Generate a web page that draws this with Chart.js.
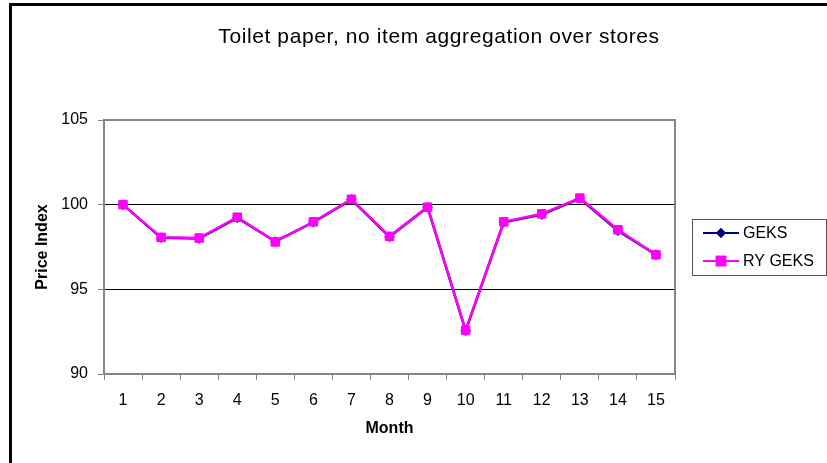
<!DOCTYPE html>
<html>
<head>
<meta charset="utf-8">
<script src="https://cdn.jsdelivr.net/npm/chart.js@4/dist/chart.umd.min.js"></script>
<style>
  html, body { margin: 0; padding: 0; background: #fff; }
  #wrap { width: 827px; height: 463px; }
  canvas { display: block; }
</style>
</head>
<body>
<div id="wrap"><canvas id="c" width="827" height="463"></canvas></div>
<script>
// Monthly price indexes for toilet paper
const months = ['1', '2', '3', '4', '5', '6', '7', '8', '9', '10', '11', '12', '13', '14', '15'];
const geks   = [100.0, 98.04, 98.0, 99.22, 97.83, 98.96, 100.3, 98.1, 99.85, 92.56, 98.96, 99.42, 100.36, 98.46, 97.05];
const ryGeks = [100.0, 98.07, 98.03, 99.26, 97.8, 98.99, 100.32, 98.13, 99.85, 92.58, 98.99, 99.46, 100.39, 98.52, 97.04];
const yTicks = [90, 95, 100, 105];

const chartTitle = 'Toilet paper, no item aggregation over stores';
const xTitle = 'Month';
const yTitle = 'Price Index';

const FONT = '"Liberation Sans", Arial, Helvetica, sans-serif';
const AXIS_GREY = '#858585';

// Page frame, plot border, title and legend
const decorations = {
  id: 'decorations',
  beforeDraw(chart) {
    const ctx = chart.ctx;
    ctx.save();
    ctx.fillStyle = '#fff';
    ctx.fillRect(0, 0, chart.width, chart.height);
    ctx.fillStyle = '#000';
    ctx.fillRect(9, 3, chart.width - 9, 3);   // top rule
    ctx.fillRect(9, 3, 3, chart.height - 3);  // left rule
    ctx.restore();
  },
  beforeDatasetsDraw(chart) {
    const { ctx, chartArea: a } = chart;
    ctx.save();
    ctx.strokeStyle = AXIS_GREY;
    ctx.lineWidth = 2;
    ctx.beginPath();
    ctx.moveTo(a.left, a.top);
    ctx.lineTo(a.right, a.top);
    ctx.lineTo(a.right, a.bottom);
    ctx.stroke();
    ctx.restore();
  },
  afterDraw(chart) {
    const ctx = chart.ctx;
    ctx.save();
    // Title
    ctx.fillStyle = '#000';
    ctx.font = '21px ' + FONT;
    ctx.textAlign = 'center';
    ctx.textBaseline = 'alphabetic';
    if ('letterSpacing' in ctx) ctx.letterSpacing = '0.6px';
    ctx.fillText(chartTitle, 439, 43);
    if ('letterSpacing' in ctx) ctx.letterSpacing = '0px';

    // Legend
    const bx = 692, by = 219, bw = 134, bh = 56;
    ctx.fillStyle = '#fff';
    ctx.fillRect(bx, by, bw, bh);
    ctx.strokeStyle = '#555';
    ctx.lineWidth = 1;
    ctx.strokeRect(bx + 0.5, by + 0.5, bw, bh);
    const rows = [233, 261];
    chart.data.datasets.forEach((ds, i) => {
      const y = rows[i];
      ctx.strokeStyle = ds.borderColor;
      ctx.lineWidth = 2;
      ctx.beginPath();
      ctx.moveTo(703, y);
      ctx.lineTo(739, y);
      ctx.stroke();
      Chart.helpers.drawPoint(ctx, {
        pointStyle: ds.pointStyle,
        radius: ds.pointRadius,
        rotation: 0,
        borderWidth: 1
      }, 721, y);
      ctx.fillStyle = ds.pointBackgroundColor;
      ctx.strokeStyle = ds.pointBorderColor;
      ctx.fill();
      ctx.stroke();
      ctx.fillStyle = '#000';
      ctx.font = '16px ' + FONT;
      ctx.textAlign = 'left';
      ctx.textBaseline = 'middle';
      ctx.fillText(ds.label, 743, y + 1);
    });
    ctx.restore();
  }
};

new Chart(document.getElementById('c'), {
  type: 'line',
  data: {
    labels: months,
    datasets: [
      {
        label: 'GEKS',
        data: geks,
        borderColor: '#000080',
        backgroundColor: '#000080',
        pointBackgroundColor: '#000080',
        pointBorderColor: '#000080',
        pointStyle: 'rectRot',
        pointRadius: 3.5,
        borderWidth: 2.5,
        tension: 0,
        order: 1
      },
      {
        label: 'RY GEKS',
        data: ryGeks,
        borderColor: '#ff00ff',
        backgroundColor: '#ff00ff',
        pointBackgroundColor: '#ff00ff',
        pointBorderColor: '#ff00ff',
        pointStyle: 'rect',
        pointRadius: 6,
        pointBorderWidth: 1,
        borderWidth: 2.5,
        tension: 0,
        order: 0
      }
    ]
  },
  options: {
    responsive: false,
    animation: false,
    devicePixelRatio: 1,
    layout: { padding: { top: 120, right: 152, left: 0, bottom: 0 } },
    plugins: {
      legend: { display: false },
      title: { display: false },
      tooltip: { enabled: false }
    },
    scales: {
      x: {
        type: 'category',
        offset: true,
        afterFit(scale) { scale.height = 89; },
        grid: {
          offset: true,
          drawOnChartArea: false,
          drawTicks: true,
          tickLength: 6,
          color: AXIS_GREY,
          lineWidth: 1
        },
        border: { color: AXIS_GREY, width: 2 },
        ticks: {
          color: '#000',
          padding: 11,
          maxRotation: 0,
          autoSkip: false,
          font: { family: FONT, size: 16 }
        },
        title: {
          display: true,
          text: xTitle,
          color: '#000',
          padding: { top: 0, bottom: 25 },
          font: { family: FONT, size: 16, weight: 'bold' }
        }
      },
      y: {
        min: 90,
        max: 105,
        afterFit(scale) { scale.width = 104; },
        afterBuildTicks(scale) { scale.ticks = yTicks.map(v => ({ value: v })); },
        grid: {
          drawTicks: true,
          tickLength: 6,
          color: (c) => (c.tick && (c.tick.value === 95 || c.tick.value === 100)) ? '#000' : AXIS_GREY,
          tickColor: AXIS_GREY,
          lineWidth: 1
        },
        border: { color: AXIS_GREY, width: 2 },
        ticks: {
          color: '#000',
          padding: 10,
          font: { family: FONT, size: 16 }
        },
        title: {
          display: true,
          text: yTitle,
          color: '#000',
          padding: { top: 33, bottom: 0 },
          font: { family: FONT, size: 16, weight: 'bold' }
        }
      }
    }
  },
  plugins: [decorations]
});
</script>
</body>
</html>
